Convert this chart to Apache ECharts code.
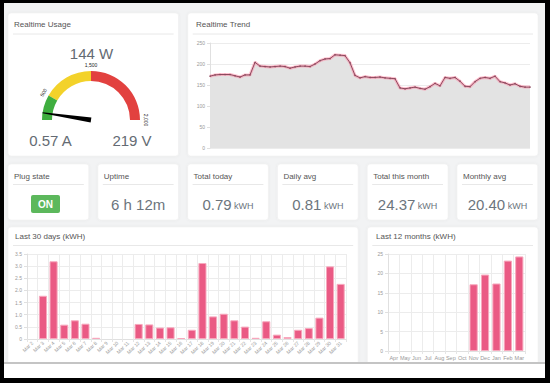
<!DOCTYPE html>
<html><head><meta charset="utf-8">
<script src="https://cdn.jsdelivr.net/npm/echarts@6/dist/echarts.min.js"></script>
<style>html,body{margin:0;padding:0;background:#000;}#c{width:550px;height:383px;}</style>
</head><body><div id="c"></div>
<script>
// ---------- data ----------
const trendValues = [171,174,175,175,175,172,169,174,174,204,195,194,193,194,195,194,190,193,195,195,194,200,208,212,213,222,221,220,203,173,167,170,168,168,169,167,166,165,143,141,143,145,142,140,146,154,148,168,166,168,159,147,146,158,166,168,166,171,158,155,150,153,147,145,145];
const dayLabels = ['Mar 2','Mar 3','Mar 4','Mar 5','Mar 6','Mar 7','Mar 8','Mar 9','Mar 10','Mar 11','Mar 12','Mar 13','Mar 14','Mar 15','Mar 16','Mar 17','Mar 18','Mar 19','Mar 20','Mar 21','Mar 22','Mar 23','Mar 24','Mar 25','Mar 26','Mar 27','Mar 28','Mar 29','Mar 30','Mar 31'];
const dayValues = [0,1.78,3.2,0.59,0.77,0.63,0.05,0,0,0,0.62,0.6,0.47,0.48,0.04,0.38,3.13,0.93,1.04,0.77,0.51,0.05,0.73,0.18,0.08,0.38,0.45,0.88,2.99,2.27];
const monthLabels = ['Apr','May','Jun','Jul','Aug','Sep','Oct','Nov','Dec','Jan','Feb','Mar'];
const monthValues = [0,0,0,0,0,0,0,17.2,19.7,17.4,23.3,24.37];
const gaugeTicks = [0,500,1500,2000];
const gaugeTickLabels = ['0','500','1,500','2,000'];
const powerW = 144, currentA = 0.57, voltageV = 219;
const statTitles = ['Plug state','Uptime','Total today','Daily avg','Total this month','Monthly avg'];
const statValues = ['ON','6 h 12m','0.79','0.81','24.37','20.40'];
const statUnits = ['','','kWH','kWH','kWH','kWH'];

// ---------- layout helpers ----------
const F = '"Liberation Sans", Arial, sans-serif';
const gaugeScale = [0,1,3,6]; // display scale of the zone boundaries
function toGauge(w){
  for (let i=1;i<gaugeTicks.length;i++){
    if (w<=gaugeTicks[i]){
      const t=(w-gaugeTicks[i-1])/(gaugeTicks[i]-gaugeTicks[i-1]);
      return gaugeScale[i-1]+t*(gaugeScale[i]-gaugeScale[i-1]);
    }
  }
  return gaugeScale[gaugeScale.length-1];
}
const hideZero = arr => arr.map(v => v === 0 ? null : v);
const g = [];
g.push({type:'rect', z:-20, shape:{x:4,y:3,width:541,height:375}, style:{fill:'#f2f3f4'}});
function card(x,y,w,h,title,tx,ty,sep){
  g.push({type:'rect', z:-10, shape:{x:x,y:y,width:w,height:h,r:3}, style:{fill:'#fff', stroke:'#ececec', lineWidth:0.5, shadowBlur:3, shadowColor:'rgba(0,0,0,0.05)'}});
  g.push({type:'line', z:-9, shape:{x1:x+5,y1:sep,x2:x+w-5,y2:sep}, style:{stroke:'#e8e8e8', lineWidth:1}});
  g.push({type:'text', z:5, style:{text:title, x:tx, y:ty, font:'8px '+F, fill:'#555', textAlign:'left', textVerticalAlign:'middle'}});
}
card(8,13,170.6,143,'Realtime Usage',14,24,34);
card(187.7,13,350.3,143,'Realtime Trend',196,24,34);
const colW=80.8, gap=9;
for (let i=0;i<6;i++){
  const x=8+i*(colW+gap);
  card(x,164,colW,56,statTitles[i],x+6,176,184.5);
  const cx=x+colW/2;
  if (statValues[i]==='ON'){
    g.push({type:'rect', z:5, shape:{x:31,y:195,width:29,height:18,r:2}, style:{fill:'#5cb85c'}});
    g.push({type:'text', z:6, style:{text:'ON', x:45.5, y:204, font:'bold 10px '+F, fill:'#fff', textAlign:'center', textVerticalAlign:'middle'}});
  } else if (statUnits[i]) {
    g.push({type:'text', z:5, style:{text:'{v|'+statValues[i]+'}{u| '+statUnits[i]+'}', x:cx, y:204, textAlign:'center', textVerticalAlign:'middle',
      rich:{v:{fontSize:15, fontFamily:F, fill:'#6c757d', color:'#6c757d', verticalAlign:'bottom', lineHeight:16},
            u:{fontSize:9, fontFamily:F, fill:'#6c757d', color:'#6c757d', verticalAlign:'bottom', lineHeight:16, padding:[0,0,2,0]}}}});
  } else {
    g.push({type:'text', z:5, style:{text:statValues[i], x:cx, y:204, font:'15px '+F, fill:'#6c757d', textAlign:'center', textVerticalAlign:'middle'}});
  }
}
card(8,227,350.2,150,'Last 30 days (kWH)',15,236.5,245.5);
card(367.3,227,170.7,150,'Last 12 months (kWH)',376,236.5,245.5);
g.push({type:'rect', z:20, shape:{x:4,y:362,width:541,height:2}, style:{fill:'#c4c4c4'}});
g.push({type:'rect', z:20, shape:{x:4,y:364,width:541,height:14}, style:{fill:'#ffffff'}});
// gauge texts
g.push({type:'text', z:5, style:{text:powerW+' W', x:91.5, y:53, font:'15px '+F, fill:'#646b73', textAlign:'center', textVerticalAlign:'middle'}});
g.push({type:'text', z:5, style:{text:currentA.toFixed(2)+' A', x:50.5, y:140, font:'15px '+F, fill:'#646b73', textAlign:'center', textVerticalAlign:'middle'}});
g.push({type:'text', z:5, style:{text:voltageV+' V', x:132, y:140, font:'15px '+F, fill:'#646b73', textAlign:'center', textVerticalAlign:'middle'}});

const axLabel = {fontSize:5, color:'#999', fontFamily:F};
const splitL = {show:true, lineStyle:{color:'#ececec', width:1}};
const pink = '#ea5a84';

const option = {
  backgroundColor:'#000',
  animation:false,
  graphic:{elements:g},
  grid:[
    {left:210, top:43, width:320, height:105},
    {left:27, top:254, width:319, height:85},
    {left:388, top:254, width:137, height:97}
  ],
  xAxis:[
    {gridIndex:0, type:'category', boundaryGap:false, data:trendValues.map((v,i)=>i), axisLabel:{show:false}, axisTick:{show:false}, axisLine:{show:false}, splitLine:{show:false}},
    {gridIndex:1, type:'category', data:dayLabels, axisLabel:Object.assign({rotate:45, interval:0, margin:3}, axLabel), axisTick:{show:true, length:3, lineStyle:{color:'#e5e5e5'}}, axisLine:{lineStyle:{color:'#e0e0e0'}}, splitLine:Object.assign({interval:0}, splitL)},
    {gridIndex:2, type:'category', data:monthLabels, axisLabel:Object.assign({interval:0, margin:4}, axLabel, {fontSize:5.5}), axisTick:{show:true, length:3, lineStyle:{color:'#e5e5e5'}}, axisLine:{lineStyle:{color:'#e0e0e0'}}, splitLine:Object.assign({interval:0}, splitL)}
  ],
  yAxis:[
    {gridIndex:0, type:'value', min:0, max:250, interval:50, axisLabel:Object.assign({margin:5}, axLabel), axisTick:{show:true, length:3, lineStyle:{color:'#e0e0e0'}}, axisLine:{show:true, lineStyle:{color:'#e0e0e0'}}, splitLine:splitL},
    {gridIndex:1, type:'value', min:0, max:3.5, interval:0.5, axisLabel:Object.assign({margin:5, formatter:v=>v===0?'0':v.toFixed(1)}, axLabel), axisTick:{show:true, length:3, lineStyle:{color:'#e0e0e0'}}, axisLine:{show:true, lineStyle:{color:'#e0e0e0'}}, splitLine:splitL},
    {gridIndex:2, type:'value', min:0, max:25, interval:5, axisLabel:Object.assign({margin:5}, axLabel), axisTick:{show:true, length:3, lineStyle:{color:'#e0e0e0'}}, axisLine:{show:true, lineStyle:{color:'#e0e0e0'}}, splitLine:splitL}
  ],
  series:[
    {type:'gauge', center:[91,120], radius:49, startAngle:180, endAngle:0, min:0, max:6, splitNumber:6,
      axisLine:{lineStyle:{width:10, color:[[1/6,'#3fae3f'],[0.5,'#f3d22a'],[1,'#e2413f']]}},
      axisTick:{show:false}, splitLine:{show:false, length:0, distance:0},
      axisLabel:{distance:-6, fontSize:5, color:'#222', fontFamily:F, rotate:'tangential',
        formatter:v=>{const i=gaugeScale.indexOf(Math.round(v)); return i>0?gaugeTickLabels[i]:'';}},
      pointer:{icon:'path://M0.8,0 L1.2,0 L2,100 L0,100 Z', width:5, length:'100%', itemStyle:{color:'#000'}},
      anchor:{show:false}, title:{show:false}, detail:{show:false},
      data:[{value:toGauge(powerW)}]},
    {type:'line', xAxisIndex:0, yAxisIndex:0, data:trendValues, symbol:'none', lineStyle:{width:3, color:'rgba(255,130,160,0.5)'}, areaStyle:{color:'#e3e3e3', opacity:1}, z:2},
    {type:'line', xAxisIndex:0, yAxisIndex:0, data:trendValues, symbol:'circle', symbolSize:1.5, itemStyle:{color:'#8d4a5e'}, lineStyle:{width:1, color:'#8d4a5e'}, z:3},
    {type:'bar', xAxisIndex:1, yAxisIndex:1, data:hideZero(dayValues), barCategoryGap:'24%', itemStyle:{color:pink, borderColor:'#f7a8bd', borderWidth:1}},
    {type:'bar', xAxisIndex:2, yAxisIndex:2, data:hideZero(monthValues), barCategoryGap:'28%', itemStyle:{color:pink, borderColor:'#f7a8bd', borderWidth:1}}
  ]
};
const chart = echarts.init(document.getElementById('c'), null, {renderer:'svg'});
chart.setOption(option);
</script></body></html>
